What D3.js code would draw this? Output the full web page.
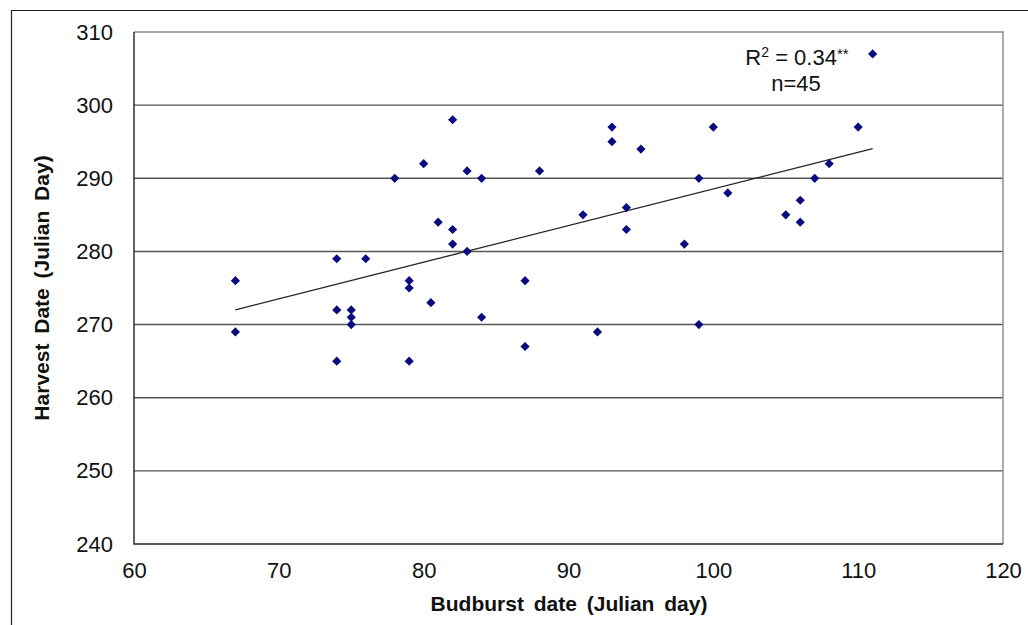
<!DOCTYPE html>
<html>
<head>
<meta charset="utf-8">
<script src="https://cdn.jsdelivr.net/npm/d3@7"></script>
<style>
  html, body { margin: 0; padding: 0; background: #fff; }
  svg { display: block; font-family: Arial, "Liberation Sans", sans-serif; }
</style>
</head>
<body>
<svg id="chart" width="1028" height="625"></svg>
<script>
// Budburst date (x) vs harvest date (y), Julian days
const budburst = [67, 67, 74, 74, 74, 75, 75, 75, 76, 78,
                  79, 79, 79, 80, 80.5, 81, 82, 82, 82, 83,
                  83, 84, 84, 87, 87, 88, 91, 92, 93, 93,
                  94, 94, 95, 98, 99, 99, 100, 101, 105, 106,
                  106, 107, 108, 110, 111];
const harvest  = [276, 269, 279, 272, 265, 272, 271, 270, 279, 290,
                  276, 275, 265, 292, 273, 284, 298, 283, 281, 291,
                  280, 290, 271, 276, 267, 291, 285, 269, 297, 295,
                  286, 283, 294, 281, 290, 270, 297, 288, 285, 287,
                  284, 290, 292, 297, 307];
const xTicks = [60, 70, 80, 90, 100, 110, 120];
const yTicks = [240, 250, 260, 270, 280, 290, 300, 310];
const rSquaredText = "0.34";
const nText = "45";

const svg = d3.select("#chart");
const plotL = 134, plotR = 1003, plotT = 32, plotB = 544;

const x = d3.scaleLinear().domain([60, 120]).range([plotL, plotR]);
const y = d3.scaleLinear().domain([240, 310]).range([plotB, plotT]);

// Outer chart frame
svg.append("path")
  .attr("d", `M11.5,${625 + 5} V10.5 H${1028 + 5}`)
  .attr("fill", "none").attr("stroke", "#222").attr("stroke-width", 1.2);

// Horizontal gridlines
svg.append("g")
  .selectAll("line")
  .data(yTicks.slice(1, -1))
  .join("line")
  .attr("x1", plotL).attr("x2", plotR)
  .attr("y1", d => y(d)).attr("y2", d => y(d))
  .attr("stroke", "#555").attr("stroke-width", 1.4);

// Plot frame: grey top/right, dark left/bottom
svg.append("path")
  .attr("d", `M${plotL},${plotT} H${plotR} V${plotB}`)
  .attr("fill", "none").attr("stroke", "#8a8a8a").attr("stroke-width", 1.4);
svg.append("path")
  .attr("d", `M${plotL},${plotT} V${plotB} H${plotR}`)
  .attr("fill", "none").attr("stroke", "#222").attr("stroke-width", 1.4);

// Y axis labels
const yAxis = d3.axisLeft(y).tickValues(yTicks).tickSize(0).tickPadding(21);
const gy = svg.append("g").attr("transform", `translate(${plotL},0)`).call(yAxis);
gy.select(".domain").remove();
gy.selectAll("text").attr("font-size", 22).attr("fill", "#111")
  .attr("font-family", "Arial, 'Liberation Sans', sans-serif");

// X axis labels
const xAxis = d3.axisBottom(x).tickValues(xTicks).tickSize(0).tickPadding(18);
const gx = svg.append("g").attr("transform", `translate(0,${plotB})`).call(xAxis);
gx.select(".domain").remove();
gx.selectAll("text").attr("font-size", 22).attr("fill", "#111")
  .attr("font-family", "Arial, 'Liberation Sans', sans-serif");

// Axis titles
svg.append("text")
  .attr("x", 569).attr("y", 611)
  .attr("text-anchor", "middle")
  .attr("font-size", 21).attr("font-weight", "bold").attr("fill", "#111")
  .attr("word-spacing", 4)
  .text("Budburst date (Julian day)");

svg.append("text")
  .attr("transform", `translate(49,${(plotT + plotB) / 2}) rotate(-90)`)
  .attr("text-anchor", "middle")
  .attr("font-size", 21).attr("font-weight", "bold").attr("fill", "#111")
  .attr("word-spacing", 4)
  .text("Harvest Date (Julian Day)");

// Least-squares trend line over the observed range
const pts = budburst.map((b, i) => ({ b, h: harvest[i] }));
const mx = d3.mean(budburst), my = d3.mean(harvest);
const sxy = d3.sum(pts, p => (p.b - mx) * (p.h - my));
const sxx = d3.sum(pts, p => (p.b - mx) ** 2);
const slope = sxy / sxx, intercept = my - slope * mx;
const [bMin, bMax] = d3.extent(budburst);
svg.append("line")
  .attr("x1", x(bMin)).attr("y1", y(intercept + slope * bMin))
  .attr("x2", x(bMax)).attr("y2", y(intercept + slope * bMax))
  .attr("stroke", "#222").attr("stroke-width", 1.3);

// Data markers
const diamond = d3.symbol().type(d3.symbolDiamond2).size(54);
svg.append("g")
  .selectAll("path")
  .data(pts)
  .join("path")
  .attr("transform", p => `translate(${x(p.b)},${y(p.h)})`)
  .attr("d", diamond)
  .attr("fill", "#0b0b80");

// Fit statistics
const stat = svg.append("text")
  .attr("x", 797).attr("y", 65)
  .attr("text-anchor", "middle")
  .attr("font-size", 22).attr("fill", "#111");
stat.append("tspan").text("R");
stat.append("tspan").attr("font-size", 14).attr("dy", -8).text("2");
stat.append("tspan").attr("dy", 8).text(" = " + rSquaredText);
stat.append("tspan").attr("font-size", 15).attr("dy", -6).text("**");

svg.append("text")
  .attr("x", 796).attr("y", 91)
  .attr("text-anchor", "middle")
  .attr("font-size", 22).attr("fill", "#111")
  .text("n=" + nText);
</script>
</body>
</html>
